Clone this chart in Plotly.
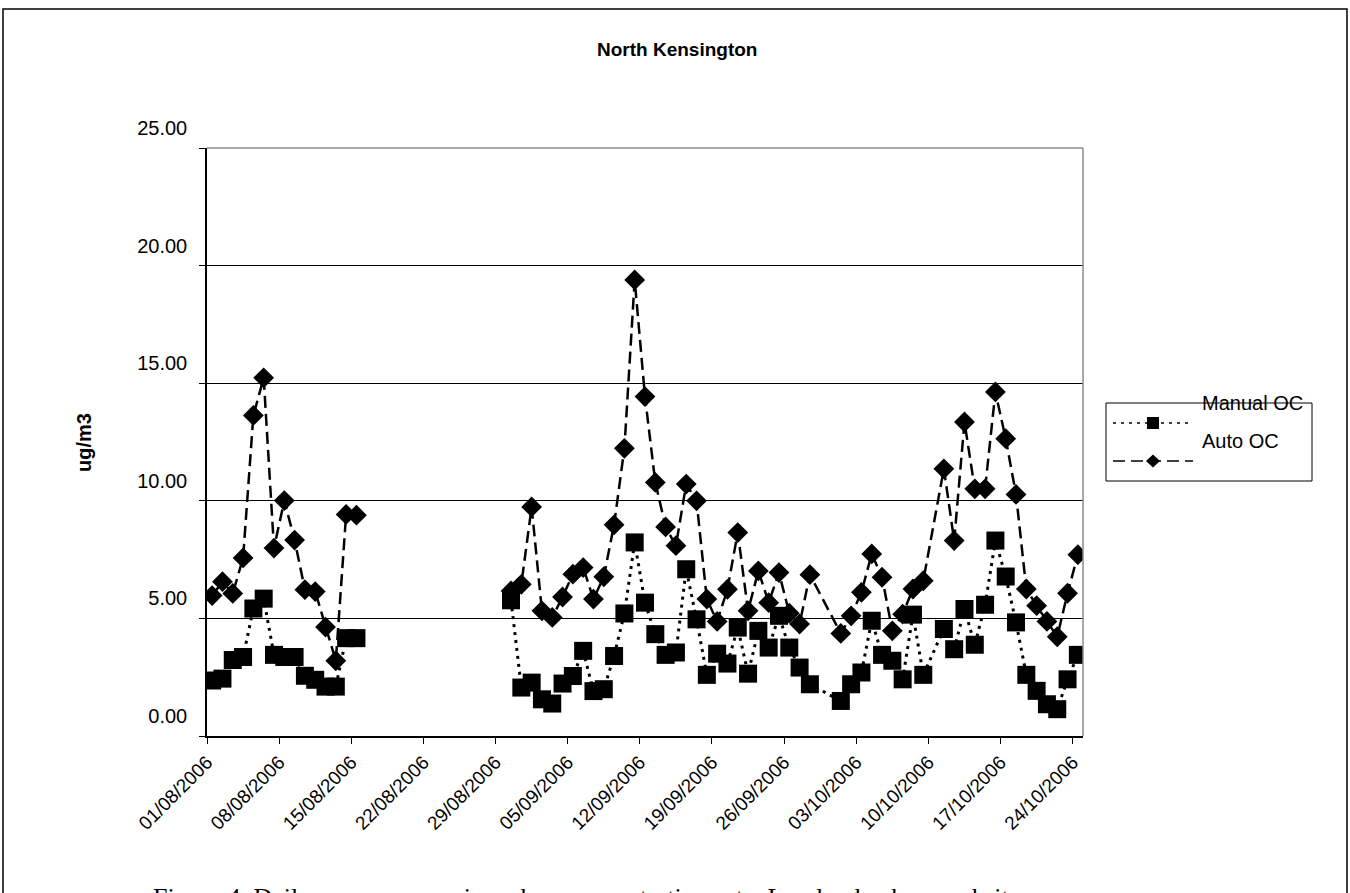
import pandas as pd
import plotly.graph_objects as go

# ---------------- data ----------------
title_text = "North Kensington"
y_title = "ug/m3"
series_names = ["Manual OC", "Auto OC"]
caption = "Figure 4. Daily average organic carbon concentrations at a London background site"

dates = (list(pd.date_range("2006-08-01", "2006-09-28"))
         + list(pd.date_range("2006-10-01", "2006-10-09"))
         + list(pd.date_range("2006-10-11", "2006-10-24")))

gap = [None] * 14  # 16/08 - 29/08: no samples

manual_aug = [2.36, 2.44, 3.23, 3.36, 5.42, 5.84, 3.45, 3.36, 3.36, 2.56, 2.39, 2.10, 2.10, 4.16, 4.16]
manual_sep = [5.77, 2.06, 2.27, 1.56, 1.38, 2.23, 2.55, 3.62, 1.91, 1.99, 3.40, 5.21, 8.23, 5.67, 4.33,
              3.45, 3.55, 7.09, 4.96, 2.60, 3.50, 3.08, 4.61, 2.65, 4.47, 3.76, 5.11, 3.76, 2.91, 2.20]
manual_oct1 = [1.49, 2.20, 2.70, 4.90, 3.45, 3.20, 2.41, 5.16, 2.60]
manual_oct2 = [4.55, 3.69, 5.40, 3.88, 5.58, 8.31, 6.78, 4.83, 2.60, 1.92, 1.35, 1.14, 2.41, 3.45]

auto_aug = [5.97, 6.56, 6.06, 7.57, 13.63, 15.23, 7.99, 10.01, 8.33, 6.22, 6.14, 4.63, 3.20, 9.42, 9.39]
auto_sep = [6.17, 6.45, 9.74, 5.32, 5.04, 5.91, 6.88, 7.16, 5.82, 6.77, 8.98, 12.23, 19.39, 14.43, 10.78,
            8.89, 8.09, 10.71, 10.00, 5.82, 4.87, 6.24, 8.65, 5.32, 7.02, 5.67, 6.95, 5.22, 4.76, 6.86]
auto_oct1 = [4.36, 5.11, 6.11, 7.74, 6.75, 4.47, 5.18, 6.25, 6.60]
auto_oct2 = [11.36, 8.31, 13.35, 10.51, 10.51, 14.63, 12.64, 10.27, 6.25, 5.54, 4.87, 4.22, 6.07, 7.71]

manual_oc = manual_aug + gap + manual_sep + manual_oct1 + manual_oct2
auto_oc = auto_aug + gap + auto_sep + auto_oct1 + auto_oct2

y_ticks = [0, 5, 10, 15, 20, 25]
y_ticklabels = ["0.00", "5.00", "10.00", "15.00", "20.00", "25.00"]

# ---------------- layout geometry (pixels) ----------------
W, H = 1350, 893
L, R, T, B = 207, 1083, 148, 736
PW, PH = R - L, B - T


def px(x):
    return (x - L) / PW


def py(y):
    return (B - y) / PH


FONT = "Liberation Sans, Arial, sans-serif"

# centre each day in its band (Excel date axis "between tick marks")
x_vals = [d + pd.Timedelta(hours=12) for d in dates]

fig = go.Figure()
fig.add_trace(go.Scatter(
    x=x_vals, y=manual_oc, name=series_names[0], mode="lines+markers",
    line=dict(color="black", width=3, dash="3px,5px"),
    marker=dict(symbol="square", size=18, color="black"),
    connectgaps=False,
))
fig.add_trace(go.Scatter(
    x=x_vals, y=auto_oc, name=series_names[1], mode="lines+markers",
    line=dict(color="black", width=2.5, dash="12px,6px"),
    marker=dict(symbol="diamond", size=16, color="black"),
    connectgaps=False,
))

shapes = []
# outer frame
shapes.append(dict(type="rect", xref="paper", yref="paper",
                   x0=px(3), x1=px(1347), y0=py(9), y1=py(1000),
                   line=dict(color="black", width=1.5), fillcolor="rgba(0,0,0,0)", layer="below"))
# plot area border (top and right, grey)
shapes.append(dict(type="line", xref="paper", yref="paper", x0=0, x1=1, y0=1, y1=1,
                   line=dict(color="#8c8c8c", width=1.5), layer="above"))
shapes.append(dict(type="line", xref="paper", yref="paper", x0=1, x1=1, y0=0, y1=1,
                   line=dict(color="#8c8c8c", width=1.5), layer="above"))
# legend box
shapes.append(dict(type="rect", xref="paper", yref="paper",
                   x0=px(1106), x1=px(1312), y0=py(403), y1=py(481),
                   line=dict(color="black", width=1), fillcolor="white", layer="above"))
# legend: manual sample
shapes.append(dict(type="line", xref="paper", yref="paper",
                   x0=px(1113), x1=px(1192), y0=py(423), y1=py(423),
                   line=dict(color="black", width=1.5, dash="3px,5px"), layer="above"))
shapes.append(dict(type="rect", xref="paper", yref="paper",
                   x0=px(1147), x1=px(1159), y0=py(417), y1=py(429),
                   line=dict(color="black", width=0), fillcolor="black", layer="above"))
# legend: auto sample
shapes.append(dict(type="line", xref="paper", yref="paper",
                   x0=px(1113), x1=px(1193), y0=py(461), y1=py(461),
                   line=dict(color="black", width=1.5, dash="12px,6px"), layer="above"))
cx, cy = 1153, 461
dpath = "M {a},{b} L {c},{d} L {e},{f} L {g},{h} Z".format(
    a=px(cx - 7), b=py(cy), c=px(cx), d=py(cy - 6.5),
    e=px(cx + 7), f=py(cy), g=px(cx), h=py(cy + 6.5))
shapes.append(dict(type="path", xref="paper", yref="paper", path=dpath,
                   line=dict(color="black", width=0), fillcolor="black", layer="above"))

annotations = [
    dict(text="<b>" + title_text + "</b>", x=px(677), y=py(50), xref="paper", yref="paper",
         showarrow=False, font=dict(family=FONT, size=19, color="black"),
         xanchor="center", yanchor="middle"),
    dict(text="<b>" + y_title + "</b>", x=px(84), y=py(443), xref="paper", yref="paper",
         showarrow=False, textangle=-90, font=dict(family=FONT, size=20, color="black"),
         xanchor="center", yanchor="middle"),
    dict(text=series_names[0], x=px(1200), y=py(403), xref="paper", yref="paper",
         showarrow=False, font=dict(family=FONT, size=20, color="black"),
         xanchor="left", yanchor="middle"),
    dict(text=series_names[1], x=px(1200), y=py(441), xref="paper", yref="paper",
         showarrow=False, font=dict(family=FONT, size=20, color="black"),
         xanchor="left", yanchor="middle"),
    dict(text=caption, x=px(151), y=py(897), xref="paper", yref="paper",
         showarrow=False, font=dict(family="Liberation Serif, Times New Roman, serif", size=26, color="black"),
         xanchor="left", yanchor="middle"),
]

fig.update_layout(
    width=W, height=H,
    margin=dict(l=L, r=W - R, t=T, b=H - B, pad=0),
    paper_bgcolor="white", plot_bgcolor="white",
    showlegend=False,
    shapes=shapes, annotations=annotations,
    font=dict(family=FONT, color="black"),
)
fig.update_xaxes(
    type="date", range=["2006-08-01", "2006-10-25"],
    tickmode="linear", tick0="2006-08-01", dtick=7 * 86400000,
    tickformat="%d/%m/%Y", tickangle=-45,
    ticks="outside", ticklen=6, tickcolor="black", tickwidth=1,
    showline=True, linecolor="black", linewidth=1.5,
    showgrid=False, zeroline=False,
    tickfont=dict(family=FONT, size=19, color="black"),
)
fig.update_yaxes(
    range=[0, 25], tickmode="array", tickvals=y_ticks, ticktext=y_ticklabels,
    ticks="outside", ticklen=6, tickcolor="black", tickwidth=1,
    showline=True, linecolor="black", linewidth=1.5,
    showgrid=True, gridcolor="black", gridwidth=1, zeroline=False,
    ticklabelshift=-20, ticklabelstandoff=8,
    tickfont=dict(family=FONT, size=20, color="black"),
)

fig.write_html("out.html", config={"displayModeBar": False},
               post_script="document.body.style.margin='0';document.body.style.overflow='hidden';")
